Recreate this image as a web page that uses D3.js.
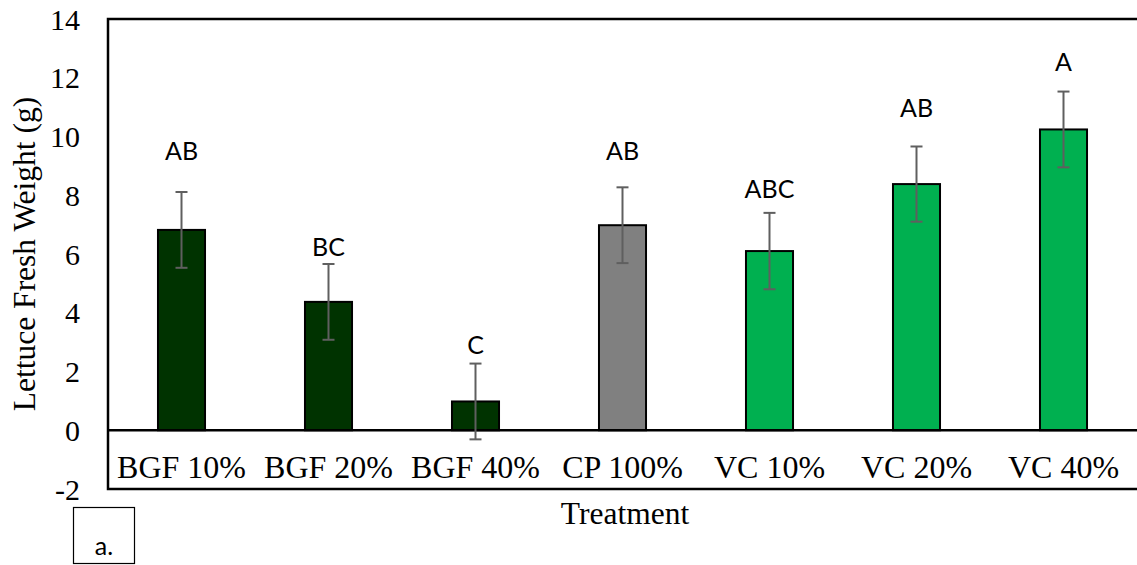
<!DOCTYPE html>
<meta charset="utf-8">
<style>
body{ margin:0; background:#fff; }
svg{ display:block; }
.tick text{ font-family:"Liberation Serif", "Times New Roman", serif; }
</style>
<script src="https://cdn.jsdelivr.net/npm/d3@7"></script>
<div id="chart"></div>
<script>
// data
var treatments = ["BGF 10%","BGF 20%","BGF 40%","CP 100%","VC 10%","VC 20%","VC 40%"]
var weights = [6.82, 4.37, 0.98, 6.98, 6.1, 8.38, 10.24]
var errors = [1.29, 1.29, 1.29, 1.29, 1.3, 1.28, 1.29]
var letters = ["AB","BC","C","AB","ABC","AB","A"]
var letterLevel = [9.2, 5.93, 2.6, 9.2, 7.9, 10.67, 12.24]
var groups = ["BGF","BGF","BGF","CP","VC","VC","VC"]
var yTicks = [-2,0,2,4,6,8,10,12,14]

var colors = {BGF:"#003300", CP:"#808080", VC:"#00B050"}

var W = 1137, H = 565
var pLeft = 108, pTop = 19, pBottom = 489, pRight = 1137

var svg = d3.select("#chart").append("svg").attr("width",W).attr("height",H)

var x = d3.scaleBand().domain(treatments).range([pLeft,pRight]).paddingInner(0.68).paddingOuter(0.34)
var y = d3.scaleLinear().domain([-2,14]).range([pBottom,pTop])

// y axis labels (no ticks, no line), plain hyphen for negatives
var yAxis = d3.axisLeft(y).tickValues(yTicks).tickSize(0).tickPadding(0)
	.tickFormat(function(d){return String(d)})
var gy = svg.append("g").attr("transform","translate(80,0)").call(yAxis)
gy.select(".domain").remove()
gy.selectAll("text").attr("font-size",30).attr("fill","#000").attr("dy","0.34em")

// frame
svg.append("path")
	.attr("d","M"+(pRight+2)+","+pTop+"H"+pLeft+"V"+pBottom+"H"+(pRight+2))
	.attr("fill","none").attr("stroke","#000").attr("stroke-width",2.5)

// bars
svg.selectAll("rect.bar").data(treatments).enter().append("rect")
	.attr("class","bar")
	.attr("x",function(d){return x(d)})
	.attr("width",x.bandwidth())
	.attr("y",function(d,i){return y(weights[i])})
	.attr("height",function(d,i){return y(0)-y(weights[i])})
	.attr("fill",function(d,i){return colors[groups[i]]})
	.attr("stroke","#000").attr("stroke-width",2)

// zero line with category labels under it
var xAxis = d3.axisBottom(x).tickSize(0).tickPadding(0)
var gx = svg.append("g").attr("transform","translate(0,"+y(0)+")").call(xAxis)
gx.select(".domain").attr("stroke","#000").attr("stroke-width",2.5)
	.attr("d","M"+pLeft+",0H"+(pRight+2))
gx.selectAll("text").attr("font-size",32).attr("fill","#000").attr("dy",null).attr("y",48)

// error bars
var eb = svg.append("g").attr("stroke","#5f5f5f").attr("stroke-width",2)
treatments.forEach(function(t,i){
	var cx = x(t)+x.bandwidth()/2
	var hi = y(weights[i]+errors[i]), lo = y(weights[i]-errors[i])
	eb.append("line").attr("x1",cx).attr("x2",cx).attr("y1",hi).attr("y2",lo)
	eb.append("line").attr("x1",cx-6).attr("x2",cx+6).attr("y1",hi).attr("y2",hi)
	eb.append("line").attr("x1",cx-6).attr("x2",cx+6).attr("y1",lo).attr("y2",lo)
})

// significance letters
svg.selectAll("text.letter").data(letters).enter().append("text")
	.attr("class","letter")
	.attr("x",function(d,i){return x(treatments[i])+x.bandwidth()/2})
	.attr("y",function(d,i){return y(letterLevel[i])})
	.attr("text-anchor","middle")
	.attr("font-family","Lato, 'Open Sans', sans-serif")
	.attr("font-size",25)
	.text(function(d){return d})

// axis titles
svg.append("text").attr("x",625).attr("y",524).attr("text-anchor","middle")
	.attr("font-family","'Liberation Serif', serif").attr("font-size",31.5).text("Treatment")
svg.append("text").attr("transform","translate(35,254) rotate(-90)").attr("text-anchor","middle")
	.attr("font-family","'Liberation Serif', serif").attr("font-size",31.5).text("Lettuce Fresh Weight (g)")

// panel tag
svg.append("rect").attr("x",73.5).attr("y",507.5).attr("width",61).attr("height",56)
	.attr("fill","none").attr("stroke","#000").attr("stroke-width",1.2)
svg.append("text").attr("x",104).attr("y",555).attr("text-anchor","middle")
	.attr("font-family","Lato, 'Open Sans', sans-serif").attr("font-size",25).text("a.")
</script>
